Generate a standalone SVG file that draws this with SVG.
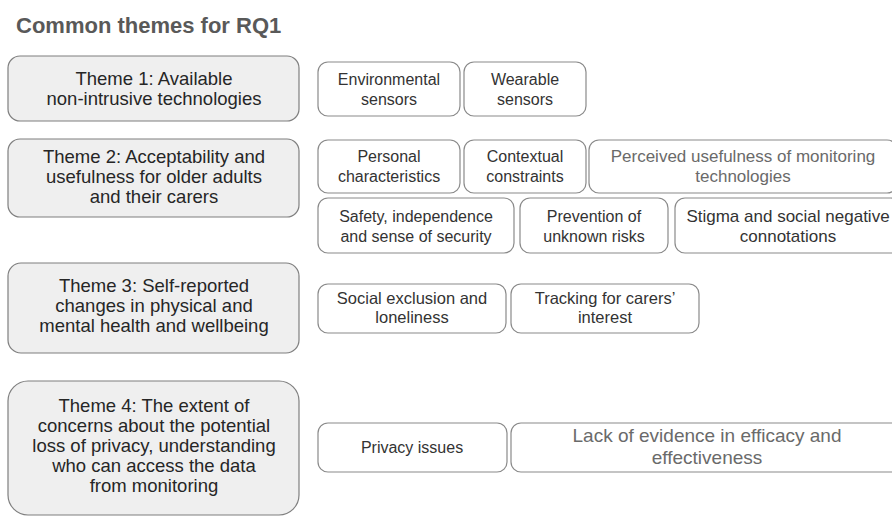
<svg xmlns="http://www.w3.org/2000/svg" width="892" height="516" viewBox="0 0 892 516">
<style>
.theme rect{fill:#efefef;stroke:#7f7f7f;stroke-width:1.2}
.sub rect{fill:#ffffff;stroke:#8a8a8a;stroke-width:1.2}
text{font-family:"Liberation Sans",Arial,sans-serif;text-anchor:middle}
.theme text{font-size:18.5px;fill:#262626}
.sub text{font-size:16px;fill:#333333}
.sub text.light{fill:#6a6a6a}
.title{font-size:22px;font-weight:bold;fill:#595959;text-anchor:start}
</style>
<rect width="892" height="516" fill="#ffffff"/>
<text class="title" x="16" y="33">Common themes for RQ1</text>

<g id="theme1" class="theme">
<rect x="8" y="56" width="291" height="65" rx="12"/>
<text x="154" y="85">Theme 1: Available</text>
<text x="154" y="105">non-intrusive technologies</text>
</g>
<g id="theme2" class="theme">
<rect x="8" y="139" width="291" height="78" rx="12"/>
<text x="154" y="163">Theme 2: Acceptability and</text>
<text x="154" y="183">usefulness for older adults</text>
<text x="154" y="203">and their carers</text>
</g>
<g id="theme3" class="theme">
<rect x="8" y="263" width="291" height="90" rx="13"/>
<text x="154" y="292">Theme 3: Self-reported</text>
<text x="154" y="312">changes in physical and</text>
<text x="154" y="332">mental health and wellbeing</text>
</g>
<g id="theme4" class="theme">
<rect x="8" y="381" width="291" height="134" rx="20"/>
<text x="154" y="412">Theme 4: The extent of</text>
<text x="154" y="432">concerns about the potential</text>
<text x="154" y="452">loss of privacy, understanding</text>
<text x="154" y="472">who can access the data</text>
<text x="154" y="492">from monitoring</text>
</g>

<g id="environmental" class="sub">
<rect x="318" y="62" width="142" height="54" rx="10"/>
<text x="389" y="85">Environmental</text>
<text x="389" y="105">sensors</text>
</g>
<g id="wearable" class="sub">
<rect x="464" y="62" width="122" height="54" rx="10"/>
<text x="525" y="85">Wearable</text>
<text x="525" y="105">sensors</text>
</g>

<g id="personal" class="sub">
<rect x="318" y="140" width="142" height="53" rx="10"/>
<text x="389" y="162">Personal</text>
<text x="389" y="182">characteristics</text>
</g>
<g id="contextual" class="sub">
<rect x="464" y="140" width="122" height="53" rx="10"/>
<text x="525" y="162">Contextual</text>
<text x="525" y="182">constraints</text>
</g>
<g id="perceived" class="sub">
<rect x="589" y="140" width="308" height="53" rx="10"/>
<text class="light" x="743" y="162" style="font-size:17px">Perceived usefulness of monitoring</text>
<text class="light" x="743" y="182" style="font-size:17px">technologies</text>
</g>

<g id="safety" class="sub">
<rect x="318" y="198" width="196" height="55" rx="10"/>
<text x="416" y="222">Safety, independence</text>
<text x="416" y="242">and sense of security</text>
</g>
<g id="prevention" class="sub">
<rect x="520" y="198" width="148" height="55" rx="10"/>
<text x="594" y="222">Prevention of</text>
<text x="594" y="242">unknown risks</text>
</g>
<g id="stigma" class="sub">
<rect x="675" y="198" width="226" height="55" rx="10"/>
<text x="788" y="222" style="font-size:17px">Stigma and social negative</text>
<text x="788" y="242" style="font-size:17px">connotations</text>
</g>

<g id="social" class="sub">
<rect x="318" y="284" width="188" height="49" rx="10"/>
<text x="412" y="304" style="font-size:16.5px">Social exclusion and</text>
<text x="412" y="323" style="font-size:16.5px">loneliness</text>
</g>
<g id="tracking" class="sub">
<rect x="511" y="284" width="188" height="49" rx="10"/>
<text x="605" y="304" style="font-size:16.5px">Tracking for carers’</text>
<text x="605" y="323" style="font-size:16.5px">interest</text>
</g>

<g id="privacy" class="sub">
<rect x="318" y="423" width="189" height="49" rx="10"/>
<text x="412" y="453">Privacy issues</text>
</g>
<g id="lack" class="sub">
<rect x="511" y="423" width="392" height="49" rx="10"/>
<text class="light" x="707" y="442" style="font-size:19px">Lack of evidence in efficacy and</text>
<text class="light" x="707" y="464" style="font-size:19px">effectiveness</text>
</g>
</svg>
